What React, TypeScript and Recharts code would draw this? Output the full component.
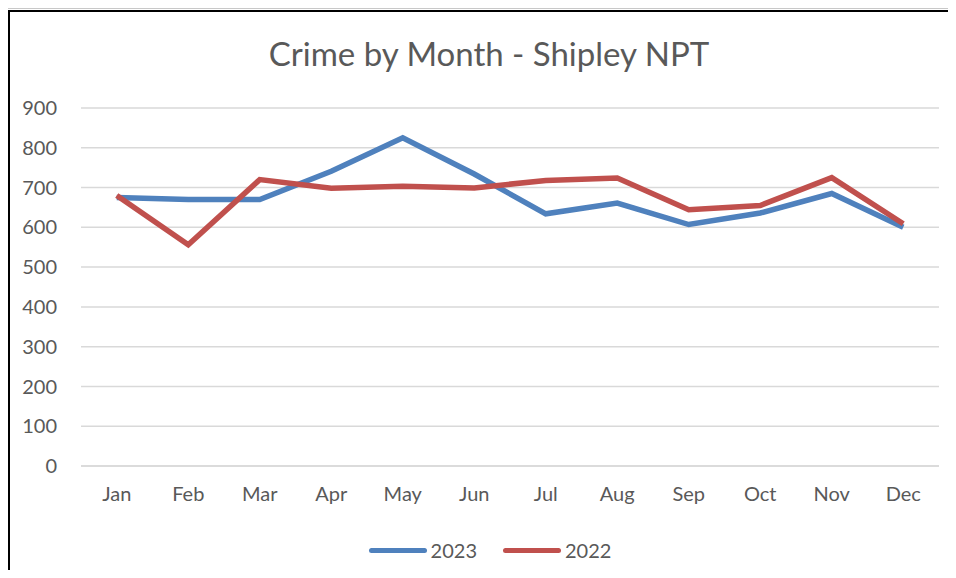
import React from 'react';
import { LineChart, Line, XAxis, YAxis, CartesianGrid } from 'recharts';

const months = ['Jan', 'Feb', 'Mar', 'Apr', 'May', 'Jun', 'Jul', 'Aug', 'Sep', 'Oct', 'Nov', 'Dec'];
const crime2023 = [675, 670, 670, 741, 825, 734, 634, 661, 607, 636, 685, 600];
const crime2022 = [680, 556, 720, 698, 703, 699, 718, 724, 644, 655, 725, 609];
const yTicks = [0, 100, 200, 300, 400, 500, 600, 700, 800, 900];

const data = months.map((m, i) => ({ name: m, y2023: crime2023[i], y2022: crime2022[i] }));

const FONT = 'Lato, "Open Sans", sans-serif';
const TEXT = '#595959';
const BLUE = '#4F81BD';
const RED = '#C0504D';

const LegendItem = ({ color, label }: { color: string; label: string }) => (
  <div style={{ display: 'flex', alignItems: 'center', marginRight: 26 }}>
    <div style={{ width: 58, height: 5, borderRadius: 3, background: color, marginRight: 4 }} />
    <span>{label}</span>
  </div>
);

export default function App() {
  return (
    <div
      style={{
        position: 'relative',
        margin: -8,
        width: 956,
        height: 578,
        overflow: 'hidden',
        background: '#fff',
        fontFamily: FONT,
      }}
    >
      {/* frame */}
      <div style={{ position: 'absolute', left: 0, top: 8, width: 956, height: 1, background: '#c8c8c8' }} />
      <div style={{ position: 'absolute', left: 8, top: 10, width: 948, height: 2, background: '#000' }} />
      <div style={{ position: 'absolute', left: 8, top: 10, width: 2, height: 568, background: '#000' }} />

      <div
        style={{
          position: 'absolute',
          top: 33,
          left: 0,
          width: 978,
          textAlign: 'center',
          fontSize: 33,
          color: TEXT,
        }}
      >
        Crime by Month - Shipley NPT
      </div>

      <div style={{ position: 'absolute', left: 0, top: 0 }}>
        <LineChart width={956} height={578} data={data} margin={{ top: 108, right: 17, bottom: 72, left: 0 }}>
          <CartesianGrid vertical={false} stroke="#d9d9d9" strokeWidth={1.5} />
          <XAxis
            dataKey="name"
            axisLine={{ stroke: '#d9d9d9', strokeWidth: 1.5 }}
            tickLine={false}
            tickSize={0}
            tickMargin={21}
            height={40}
            padding={{ left: 35.75, right: 35.75 }}
            tick={{ fill: TEXT, fontSize: 20, fontFamily: FONT }}
          />
          <YAxis
            domain={[0, 900]}
            ticks={yTicks}
            axisLine={false}
            tickLine={false}
            tickSize={0}
            tickMargin={24}
            width={81}
            tick={{ fill: TEXT, fontSize: 20, fontFamily: FONT }}
          />
          <Line dataKey="y2023" stroke={BLUE} strokeWidth={5.5} dot={false} isAnimationActive={false} />
          <Line dataKey="y2022" stroke={RED} strokeWidth={5.5} dot={false} isAnimationActive={false} />
        </LineChart>
      </div>

      <div
        style={{
          position: 'absolute',
          top: 538,
          left: 0,
          width: 1006,
          display: 'flex',
          justifyContent: 'center',
          fontSize: 20,
          color: TEXT,
        }}
      >
        <LegendItem color={BLUE} label="2023" />
        <LegendItem color={RED} label="2022" />
      </div>
    </div>
  );
}
